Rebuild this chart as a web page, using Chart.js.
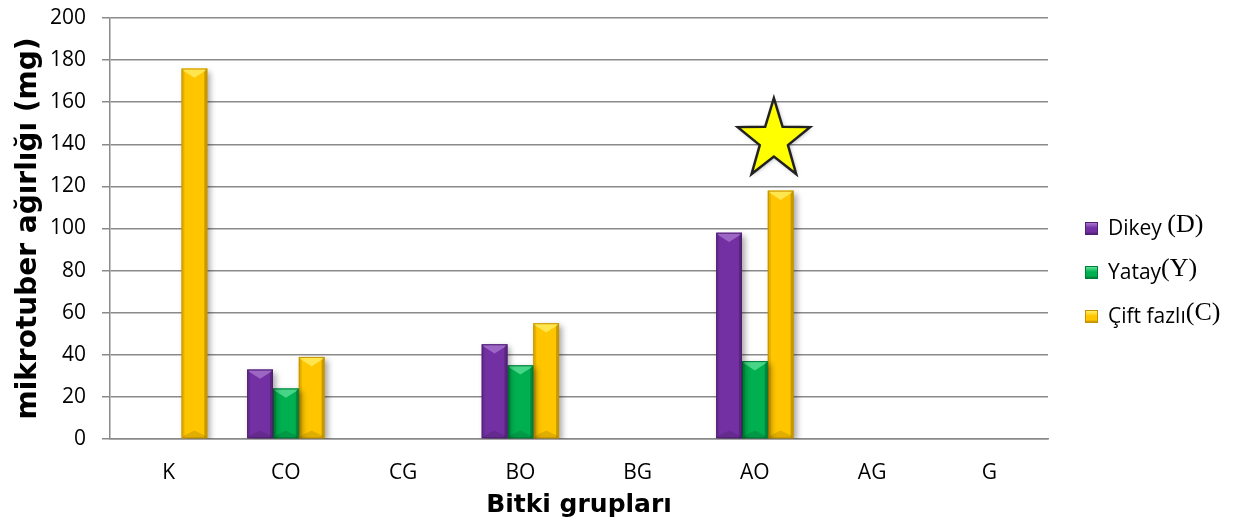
<!DOCTYPE html>
<html lang="tr">
<head>
<meta charset="utf-8">
<title>Mikrotuber ağırlığı</title>
<script src="https://cdn.jsdelivr.net/npm/chart.js@4.4.1/dist/chart.umd.min.js"></script>
<style>
  html, body { margin: 0; padding: 0; background: #fff; }
  #wrap { position: relative; width: 1257px; height: 530px; }
  #chart { position: absolute; left: 0; top: 0; }
  #legend { position: absolute; left: 1085px; top: 212px; font-family: "Open Sans", "Liberation Sans", sans-serif; font-size: 21px; color: #000; }
  #legend .item { height: 44px; display: flex; align-items: flex-start; white-space: nowrap; }
  #legend .box { width: 13px; height: 13px; margin-top: 10px; margin-right: 10px; box-sizing: border-box; }
  #legend .ser { font-family: "Liberation Serif", "DejaVu Serif", serif; font-size: 26px; line-height: 26px; position: relative; top: -1px; }
  #legend .lbl { line-height: 31px; }
</style>
</head>
<body>
<div id="wrap">
  <canvas id="chart" width="1257" height="530"></canvas>
  <div id="legend"></div>
</div>
<script>
// Plant groups and the microtuber weight (mg) of each culture type
const categories = ['K', 'CO', 'CG', 'BO', 'BG', 'AO', 'AG', 'G'];
const dikey = [null, 33, null, 45, null, 98, null, null];
const yatay = [null, 24, null, 35, null, 37, null, null];
const ciftFazli = [176, 39, null, 55, null, 118, null, null];
const yTicks = [0, 20, 40, 60, 80, 100, 120, 140, 160, 180, 200];

// Star marker above the best group
const starCategory = 'AO';
const starValue = 142;

const seriesInfo = [
  { label: 'Dikey\u00a0', code: '(D)', data: dikey, color: '#7330a2', edge: '#4f1f73', light: '#a878cf' },
  { label: 'Yatay', code: '(Y)', data: yatay, color: '#00b050', edge: '#007a37', light: '#5fe39a' },
  { label: 'Çift fazlı', code: '(C)', data: ciftFazli, color: '#ffc600', edge: '#c79200', light: '#fff06a' }
];

// Bevelled 3D look for each bar, plus soft drop shadow
const bevelPlugin = {
  id: 'bevel',
  beforeDatasetDraw(chart) {
    const ctx = chart.ctx;
    ctx.save();
    ctx.shadowColor = 'rgba(0,0,0,0.35)';
    ctx.shadowBlur = 6;
    ctx.shadowOffsetX = 3;
    ctx.shadowOffsetY = 3;
  },
  afterDatasetDraw(chart, args) {
    const ctx = chart.ctx;
    ctx.restore();
    const info = seriesInfo[args.index];
    const values = chart.data.datasets[args.index].data;
    args.meta.data.forEach((bar, i) => {
      if (values[i] == null) return;
      const p = bar.getProps(['x', 'y', 'base', 'width'], true);
      const l = p.x - p.width / 2, r = p.x + p.width / 2;
      const t = p.y, b = p.base, w = p.width;
      const e = 3;
      ctx.save();
      // side edges
      ctx.fillStyle = 'rgba(0,0,0,0.10)';
      ctx.fillRect(l, t, e, b - t);
      ctx.fillStyle = 'rgba(0,0,0,0.22)';
      ctx.fillRect(r - e, t, e, b - t);
      // top bevel
      ctx.fillStyle = info.light;
      ctx.globalAlpha = 0.75;
      ctx.beginPath();
      ctx.moveTo(l, t);
      ctx.lineTo(r, t);
      ctx.lineTo(r - e, t + e);
      ctx.lineTo(p.x, t + Math.min(w * 0.36, (b - t) / 2));
      ctx.lineTo(l + e, t + e);
      ctx.closePath();
      ctx.fill();
      // bottom bevel
      ctx.globalAlpha = 1;
      ctx.fillStyle = 'rgba(0,0,0,0.12)';
      ctx.beginPath();
      ctx.moveTo(l, b);
      ctx.lineTo(r, b);
      ctx.lineTo(r - e, b - e);
      ctx.lineTo(p.x, b - Math.min(w * 0.3, (b - t) / 2));
      ctx.lineTo(l + e, b - e);
      ctx.closePath();
      ctx.fill();
      // outline
      ctx.strokeStyle = info.edge;
      ctx.lineWidth = 1;
      ctx.strokeRect(l + 0.5, t + 0.5, w - 1, b - t - 1);
      ctx.restore();
    });
  }
};

// Five-pointed star drawn over the chosen category
const starPlugin = {
  id: 'star',
  afterDatasetsDraw(chart) {
    const ctx = chart.ctx;
    const xs = chart.scales.x, ys = chart.scales.y;
    const cx = xs.getPixelForValue(categories.indexOf(starCategory)) + 19;
    const cy = ys.getPixelForValue(starValue);
    const rx = 38, ry = 42, inner = 0.39;
    ctx.save();
    ctx.beginPath();
    for (let k = 0; k < 10; k++) {
      const ang = -Math.PI / 2 + k * Math.PI / 5;
      const f = k % 2 === 0 ? 1 : inner;
      const px = cx + Math.cos(ang) * rx * f;
      const py = cy + Math.sin(ang) * ry * f;
      if (k === 0) ctx.moveTo(px, py); else ctx.lineTo(px, py);
    }
    ctx.closePath();
    ctx.shadowColor = 'rgba(0,0,0,0.35)';
    ctx.shadowBlur = 4;
    ctx.shadowOffsetX = 1;
    ctx.shadowOffsetY = 1;
    ctx.fillStyle = '#ffff00';
    ctx.fill();
    ctx.shadowColor = 'transparent';
    ctx.lineWidth = 2.5;
    ctx.lineJoin = 'miter';
    ctx.strokeStyle = '#222';
    ctx.stroke();
    ctx.restore();
  }
};

const tickFont = { family: '"Open Sans", "Liberation Sans", sans-serif', size: 21 };
const xTitleFont = { family: '"DejaVu Sans", Verdana, sans-serif', size: 25, weight: 'bold' };
const yTitleFont = { family: '"DejaVu Sans", Verdana, sans-serif', size: 28, weight: 'bold' };

new Chart(document.getElementById('chart'), {
  type: 'bar',
  data: {
    labels: categories,
    datasets: seriesInfo.map(s => ({
      label: s.label + s.code,
      data: s.data,
      backgroundColor: s.color,
      borderWidth: 0
    }))
  },
  options: {
    responsive: false,
    animation: false,
    layout: { padding: { top: 18, right: 209, left: 0, bottom: 0 } },
    datasets: { bar: { categoryPercentage: 0.66, barPercentage: 1.0 } },
    plugins: {
      legend: { display: false },
      tooltip: { enabled: false }
    },
    scales: {
      x: {
        grid: { display: false },
        border: { display: true, color: '#8a8a8a', width: 1.5 },
        ticks: { color: '#000', font: tickFont, padding: 13, maxRotation: 0 },
        title: { display: true, text: 'Bitki grupları', color: '#000', font: xTitleFont, padding: { top: 0, bottom: 10 } },
        afterFit(scale) { scale.height = 91; }
      },
      y: {
        min: 0,
        max: 200,
        afterBuildTicks(scale) { scale.ticks = yTicks.map(v => ({ value: v })); },
        grid: { color: '#8a8a8a', lineWidth: 1.5, tickLength: 8, drawTicks: true },
        border: { display: true, color: '#8a8a8a', width: 1.5 },
        ticks: { color: '#000', font: tickFont, padding: 16 },
        title: { display: true, text: 'mikrotuber ağırlığı (mg)', color: '#000', font: yTitleFont, padding: { top: 12, bottom: 0 } },
        afterFit(scale) {
          scale.width = 110;
          scale.paddingTop = 0;
          scale.paddingBottom = 0;
        }
      }
    }
  },
  plugins: [bevelPlugin, starPlugin]
});

// Legend with serif series codes
const legend = document.getElementById('legend');
seriesInfo.forEach(s => {
  const item = document.createElement('div');
  item.className = 'item';
  const box = document.createElement('span');
  box.className = 'box';
  box.style.background = 'linear-gradient(180deg,' + s.light + ' 0%,' + s.color + ' 45%,' + s.color + ' 80%,' + s.edge + ' 100%)';
  box.style.border = '1px solid ' + s.edge;
  const lbl = document.createElement('span');
  lbl.className = 'lbl';
  lbl.textContent = s.label;
  const code = document.createElement('span');
  code.className = 'ser';
  code.textContent = s.code;
  item.appendChild(box);
  item.appendChild(lbl);
  item.appendChild(code);
  legend.appendChild(item);
});
</script>
</body>
</html>
